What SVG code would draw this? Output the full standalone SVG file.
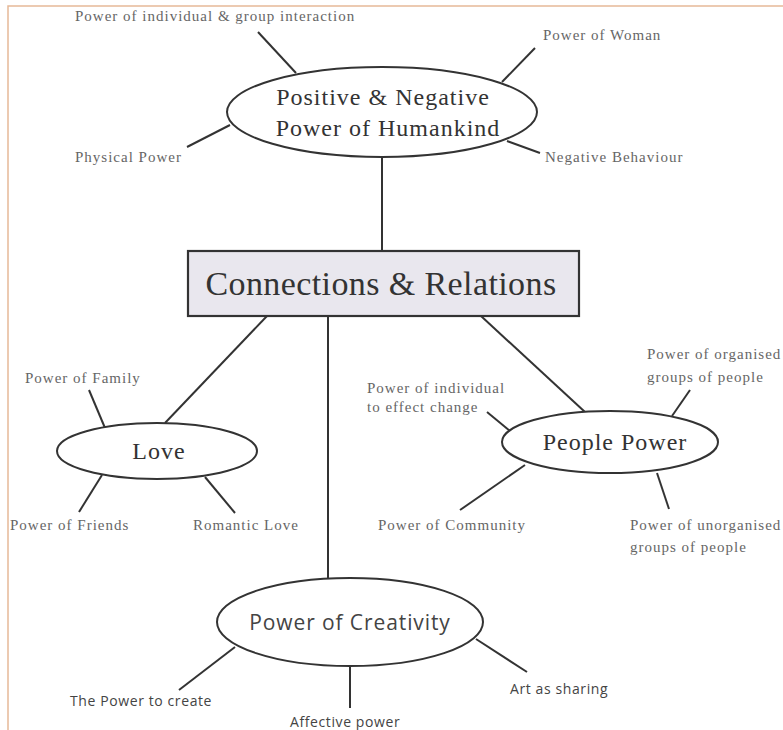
<svg xmlns="http://www.w3.org/2000/svg" width="783" height="730" viewBox="0 0 783 730">
<style>
.frame{fill:none;stroke:#e6b998;stroke-width:1.5}
.ell{fill:#fff;stroke:#333;stroke-width:2}
.box{fill:#e9e7ee;stroke:#333;stroke-width:2.2}
.ln{stroke:#333;stroke-width:2;fill:none}
.lab{font-family:"Liberation Serif",serif;font-size:15px;letter-spacing:1px;fill:#666}
.big{font-family:"Liberation Serif",serif;font-size:24px;letter-spacing:1px;fill:#333;text-anchor:middle}
.title{font-family:"Liberation Serif",serif;font-size:34px;letter-spacing:0.4px;fill:#333;text-anchor:middle}
.sans{font-family:"Open Sans","Liberation Sans",sans-serif;fill:#444}
.sl{font-size:14px;letter-spacing:0.6px}
</style>
<rect width="783" height="730" fill="#fff"/>
<rect class="frame" x="8" y="6" width="800" height="760"/>
<g id="connectors">
<line class="ln" x1="382" y1="156" x2="382" y2="251"/>
<line class="ln" x1="267" y1="316" x2="165" y2="423"/>
<line class="ln" x1="328" y1="316" x2="328" y2="578"/>
<line class="ln" x1="481" y1="316" x2="585" y2="412"/>
<line class="ln" x1="258" y1="32" x2="296" y2="73"/>
<line class="ln" x1="535" y1="48" x2="502" y2="82"/>
<line class="ln" x1="187" y1="147" x2="230" y2="125"/>
<line class="ln" x1="540" y1="153" x2="507" y2="141"/>
<line class="ln" x1="89" y1="390" x2="105" y2="428"/>
<line class="ln" x1="102" y1="475" x2="79" y2="512"/>
<line class="ln" x1="205" y1="477" x2="235" y2="513"/>
<line class="ln" x1="487" y1="412" x2="510" y2="431"/>
<line class="ln" x1="690" y1="390" x2="672" y2="416"/>
<line class="ln" x1="525" y1="465" x2="460" y2="510"/>
<line class="ln" x1="657" y1="473" x2="669" y2="509"/>
<line class="ln" x1="235" y1="647" x2="179" y2="690"/>
<line class="ln" x1="350" y1="667" x2="350" y2="708"/>
<line class="ln" x1="476" y1="639" x2="527" y2="672"/>
</g>
<g id="humankind">
<ellipse class="ell" cx="382" cy="112" rx="155" ry="45"/>
<text class="big" x="383" y="105">Positive &amp; Negative</text>
<text class="big" x="388" y="136">Power of Humankind</text>
</g>
<g id="connections">
<rect class="box" x="188" y="251" width="391" height="65"/>
<text class="title" x="381" y="295">Connections &amp; Relations</text>
</g>
<g id="love">
<ellipse class="ell" cx="157" cy="451" rx="100" ry="28"/>
<text class="big" x="159" y="459">Love</text>
</g>
<g id="people">
<ellipse class="ell" cx="610" cy="442" rx="108" ry="31"/>
<text class="big" x="615" y="450">People Power</text>
</g>
<g id="creativity">
<ellipse class="ell" cx="350" cy="622" rx="133" ry="44"/>
<text class="sans" x="350" y="630" font-size="21" letter-spacing="0.9" text-anchor="middle">Power of Creativity</text>
</g>
<g id="labels">
<text class="lab" x="75" y="21">Power of individual &amp; group interaction</text>
<text class="lab" x="543" y="40">Power of Woman</text>
<text class="lab" x="75" y="162">Physical Power</text>
<text class="lab" x="545" y="162">Negative Behaviour</text>
<text class="lab" x="25" y="383">Power of Family</text>
<text class="lab" x="10" y="530">Power of Friends</text>
<text class="lab" x="193" y="530">Romantic Love</text>
<text class="lab" x="367" y="393">Power of individual</text>
<text class="lab" x="367" y="412">to effect change</text>
<text class="lab" x="647" y="359">Power of organised</text>
<text class="lab" x="647" y="382">groups of people</text>
<text class="lab" x="378" y="530">Power of Community</text>
<text class="lab" x="630" y="530">Power of unorganised</text>
<text class="lab" x="630" y="552">groups of people</text>
<text class="sans sl" x="70" y="706">The Power to create</text>
<text class="sans sl" x="290" y="727">Affective power</text>
<text class="sans sl" x="510" y="694">Art as sharing</text>
</g>
</svg>
